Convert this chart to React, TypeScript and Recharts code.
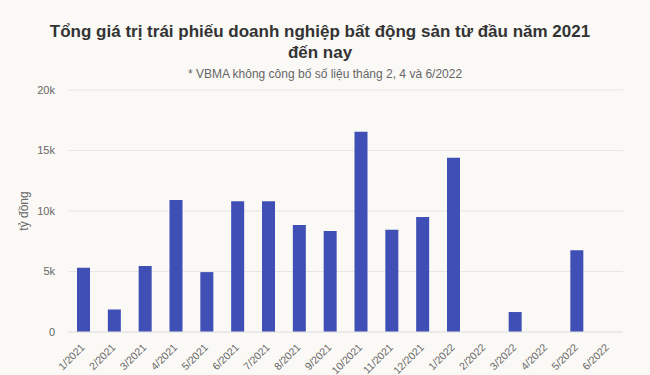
import React from 'react';
import { BarChart, Bar, XAxis, YAxis, CartesianGrid } from 'recharts';

const months = [
  '1/2021', '2/2021', '3/2021', '4/2021', '5/2021', '6/2021', '7/2021', '8/2021', '9/2021',
  '10/2021', '11/2021', '12/2021', '1/2022', '2/2022', '3/2022', '4/2022', '5/2022', '6/2022',
];
// tỷ đồng; VBMA has no figures for 2, 4 and 6/2022
const values: (number | null)[] = [
  5300, 1860, 5450, 10900, 4950, 10800, 10800, 8850, 8350,
  16550, 8450, 9500, 14400, null, 1650, null, 6750, null,
];
const yTicks = [0, 5000, 10000, 15000, 20000];

const data = months.map((m, i) => ({ month: m, value: values[i] }));

const FONT = '"Liberation Sans", Arial, sans-serif';
const BG = '#faf9f6';

const MonthTick = (props: any) => {
  const { x, y, payload } = props;
  return (
    <g transform={`translate(${x + 2},${y + 8})`}>
      <text
        x={0}
        y={0}
        textAnchor="end"
        transform="rotate(-45)"
        fontSize={10.5}
        fill="#666"
        fontFamily={FONT}
      >
        {payload.value}
      </text>
    </g>
  );
};

export default function App() {
  return (
    <div
      style={{
        position: 'absolute',
        left: 0,
        top: 0,
        width: 650,
        height: 375,
        background: BG,
        fontFamily: FONT,
        overflow: 'hidden',
      }}
    >
      <div
        style={{
          position: 'absolute',
          top: 21,
          left: 40,
          width: 560,
          textAlign: 'center',
          fontSize: 17,
          fontWeight: 'bold',
          color: '#333',
          lineHeight: '21px',
        }}
      >
        Tổng giá trị trái phiếu doanh nghiệp bất động sản từ đầu năm 2021 đến nay
      </div>
      <div
        style={{
          position: 'absolute',
          top: 67,
          left: 0,
          width: 650,
          textAlign: 'center',
          fontSize: 12,
          color: '#666',
        }}
      >
        * VBMA không công bố số liệu tháng 2, 4 và 6/2022
      </div>
      <div style={{ position: 'absolute', top: 80, left: 0 }}>
        <BarChart
          width={650}
          height={295}
          data={data}
          margin={{ top: 10, right: 27, left: 0, bottom: 0 }}
          barSize={13}
        >
          <CartesianGrid vertical={false} stroke="#e6e6e6" />
          <XAxis
            dataKey="month"
            interval={0}
            height={43}
            tickLine={false}
            axisLine={{ stroke: '#e6e6e6' }}
            tick={<MonthTick />}
          />
          <YAxis
            width={68}
            domain={[0, 20000]}
            ticks={yTicks}
            axisLine={false}
            tickLine={false}
            tickSize={0}
            tickMargin={13}
            tick={{ fontSize: 11, fill: '#666', fontFamily: FONT }}
            tickFormatter={(v: number) => (v === 0 ? '0' : `${v / 1000}k`)}
            label={{
              value: 'tỷ đồng',
              angle: -90,
              position: 'insideLeft',
              offset: 24,
              style: { fontSize: 12, fill: '#666', fontFamily: FONT, textAnchor: 'middle' },
            }}
          />
          <Bar dataKey="value" fill="#3f4fb5" isAnimationActive={false} />
        </BarChart>
      </div>
    </div>
  );
}
